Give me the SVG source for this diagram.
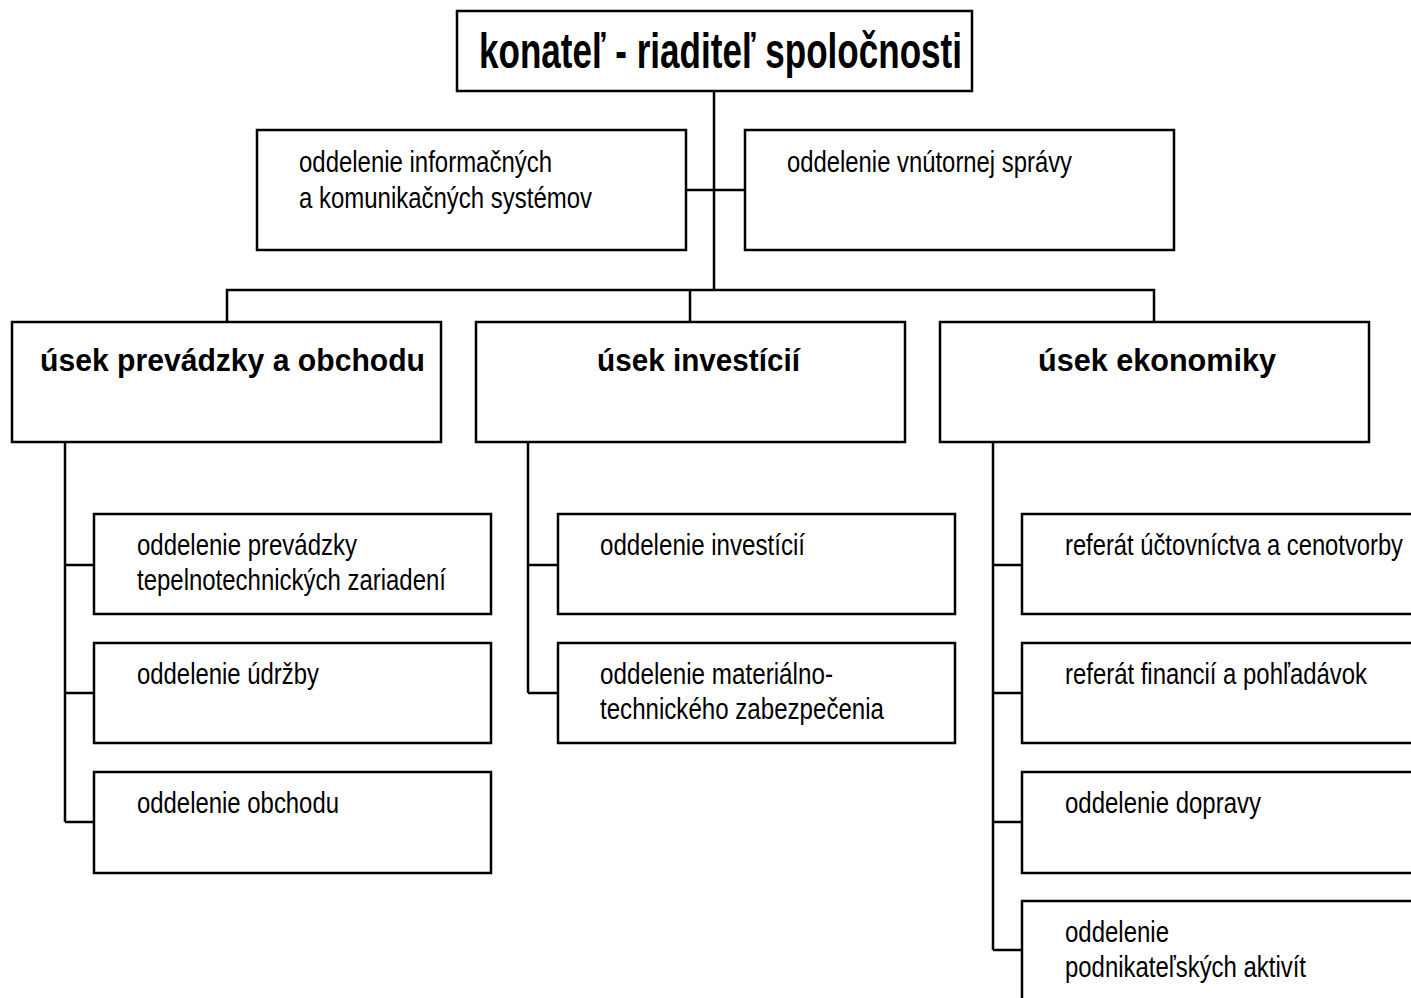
<svg xmlns="http://www.w3.org/2000/svg" width="1411" height="998" viewBox="0 0 1411 998">
<style>
.box{fill:#fff;stroke:#000;stroke-width:2.5}
.ln{fill:none;stroke:#000;stroke-width:2.5}
text{font-family:"Liberation Sans Narrow","Liberation Sans",Arial,sans-serif;fill:#000}
.t0{font-size:50px;font-weight:bold}
.t1{font-size:32px;font-weight:bold}
.t2{font-size:29px}
</style>
<rect width="1411" height="998" fill="#fff"/>
<g id="connectors" class="ln">
<path d="M714 91V290M686 190H745M227 322V290H1154V322M690 290V322"/>
<path d="M65 442V822M65 565H94M65 693H94M65 822H94"/>
<path d="M528 442V693M528 565H558M528 693H558"/>
<path d="M993 442V950M993 565H1022M993 693H1022M993 822H1022M993 950H1022"/>
</g>
<g id="n-konatel"><rect class="box" x="457" y="11" width="515" height="80"/><text class="t0" x="479" y="68" textLength="483" lengthAdjust="spacingAndGlyphs">konateľ - riaditeľ spoločnosti</text></g>
<g id="n-info"><rect class="box" x="257" y="130" width="429" height="120"/><text class="t2" x="299" y="172" textLength="253" lengthAdjust="spacingAndGlyphs">oddelenie informačných</text><text class="t2" x="299" y="208" textLength="293" lengthAdjust="spacingAndGlyphs">a komunikačných systémov</text></g>
<g id="n-vnut"><rect class="box" x="745" y="130" width="429" height="120"/><text class="t2" x="787" y="172" textLength="285" lengthAdjust="spacingAndGlyphs">oddelenie vnútornej správy</text></g>
<g id="n-usek-prev"><rect class="box" x="12" y="322" width="429" height="120"/><text class="t1" x="40" y="371" textLength="385" lengthAdjust="spacingAndGlyphs">úsek prevádzky a obchodu</text></g>
<g id="n-usek-inv"><rect class="box" x="476" y="322" width="429" height="120"/><text class="t1" x="597" y="371" textLength="203" lengthAdjust="spacingAndGlyphs">úsek investícií</text></g>
<g id="n-usek-eko"><rect class="box" x="940" y="322" width="429" height="120"/><text class="t1" x="1038" y="371" textLength="238" lengthAdjust="spacingAndGlyphs">úsek ekonomiky</text></g>
<g id="n-prev"><rect class="box" x="94" y="514" width="397" height="100"/><text class="t2" x="137" y="555" textLength="220" lengthAdjust="spacingAndGlyphs">oddelenie prevádzky</text><text class="t2" x="137" y="590" textLength="309" lengthAdjust="spacingAndGlyphs">tepelnotechnických zariadení</text></g>
<g id="n-udrz"><rect class="box" x="94" y="643" width="397" height="100"/><text class="t2" x="137" y="684" textLength="182" lengthAdjust="spacingAndGlyphs">oddelenie údržby</text></g>
<g id="n-obch"><rect class="box" x="94" y="772" width="397" height="101"/><text class="t2" x="137" y="813" textLength="202" lengthAdjust="spacingAndGlyphs">oddelenie obchodu</text></g>
<g id="n-inv"><rect class="box" x="558" y="514" width="397" height="100"/><text class="t2" x="600" y="555" textLength="205" lengthAdjust="spacingAndGlyphs">oddelenie investícií</text></g>
<g id="n-mat"><rect class="box" x="558" y="643" width="397" height="100"/><text class="t2" x="600" y="684" textLength="233" lengthAdjust="spacingAndGlyphs">oddelenie materiálno-</text><text class="t2" x="600" y="719" textLength="284" lengthAdjust="spacingAndGlyphs">technického zabezpečenia</text></g>
<g id="n-uct"><rect class="box" x="1022" y="514" width="397" height="100"/><text class="t2" x="1065" y="555" textLength="338" lengthAdjust="spacingAndGlyphs">referát účtovníctva a cenotvorby</text></g>
<g id="n-fin"><rect class="box" x="1022" y="643" width="397" height="100"/><text class="t2" x="1065" y="684" textLength="302" lengthAdjust="spacingAndGlyphs">referát financií a pohľadávok</text></g>
<g id="n-dopr"><rect class="box" x="1022" y="772" width="397" height="101"/><text class="t2" x="1065" y="813" textLength="196" lengthAdjust="spacingAndGlyphs">oddelenie dopravy</text></g>
<g id="n-podn"><rect class="box" x="1022" y="901" width="397" height="101"/><text class="t2" x="1065" y="942" textLength="104" lengthAdjust="spacingAndGlyphs">oddelenie</text><text class="t2" x="1065" y="977" textLength="241" lengthAdjust="spacingAndGlyphs">podnikateľských aktivít</text></g>
</svg>
